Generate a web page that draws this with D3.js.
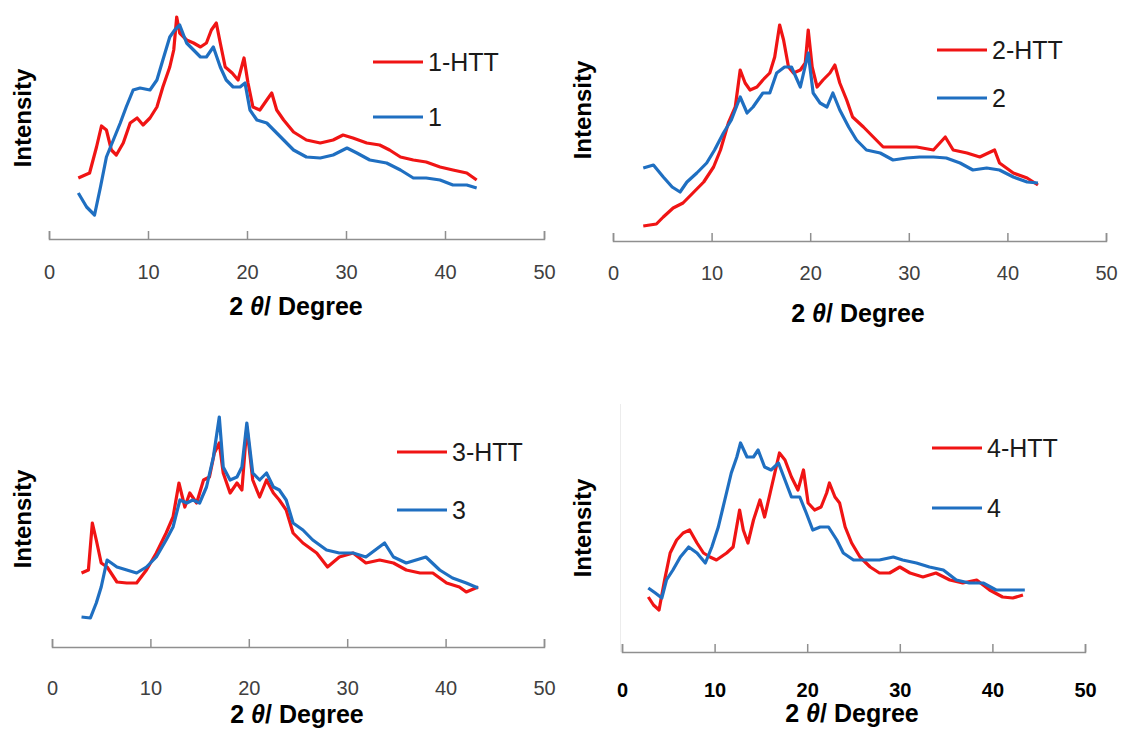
<!DOCTYPE html>
<html>
<head>
<meta charset="utf-8">
<script src="https://cdn.jsdelivr.net/npm/d3@7"></script>
<style>
  html, body { margin: 0; padding: 0; background: #fff; }
  svg { display: block; font-family: "Liberation Sans", Arial, sans-serif; }
</style>
</head>
<body>
<div id="chart"></div>
<script>
// XRD patterns, 2θ in degrees, intensity in arbitrary units (height above baseline)
var xTicks = [0, 10, 20, 30, 40, 50];

// sample 1
var s1HttX = [2.96,4.1,4.8,5.3,5.8,6.3,6.8,7.5,8.2,8.9,9.5,10.2,10.9,11.5,12.2,12.6,12.9,13.2,13.9,14.6,15.3,15.9,16.4,16.9,17.3,17.8,18.5,19.1,19.7,20.1,20.6,21.3,22.0,22.5,23.0,23.7,24.7,26.0,27.4,28.7,29.7,30.7,32.1,33.4,34.4,35.5,36.8,38.1,39.5,40.8,42.2,43.2];
var s1HttY = [61,66,92,113,109,89,84,96,116,121,114,121,132,152,172,189,222,206,199,196,192,196,209,216,196,172,166,159,181,156,132,129,139,146,129,119,107,99,96,99,104,101,96,94,89,82,79,77,72,69,66,59];
var s1X = [2.96,3.8,4.6,5.2,5.8,6.5,7.2,7.8,8.5,9.2,10.2,10.9,11.5,12.2,12.7,13.2,13.9,14.6,15.3,15.9,16.6,17.3,17.9,18.6,19.3,19.8,20.3,21.0,22.0,22.7,23.7,24.7,26.0,27.4,28.7,30.1,31.1,32.4,34.1,35.5,36.8,38.1,39.5,40.8,42.2,43.2];
var s1Y = [46,32,24,52,82,99,116,132,149,151,149,159,179,202,209,214,196,189,182,182,192,172,159,152,152,156,129,119,116,109,99,89,82,81,84,91,86,79,76,69,61,61,59,54,54,51];

// sample 2
var s2HttX = [3.07,4.4,5.1,6.1,7.1,8.1,9.2,10.2,10.9,11.7,12.4,12.9,13.4,13.9,14.6,15.2,15.9,16.4,16.9,17.3,17.8,18.3,19.0,19.5,19.8,20.2,20.7,21.3,22.0,22.5,23.0,23.7,24.3,25.4,26.4,27.4,29.1,30.8,32.5,33.7,34.5,35.9,37.2,38.7,39.2,40.6,42.0,43.1];
var s2HttY = [15,17,24,33,38,48,59,74,91,118,134,171,158,151,154,161,168,184,216,201,174,168,171,178,211,174,154,161,168,176,158,141,124,114,104,94,94,94,91,104,91,88,84,91,78,68,63,56];
var s2X = [3.07,4.1,5.1,6.0,6.8,7.5,8.5,9.5,10.3,11.2,12.0,12.9,13.6,14.2,15.2,15.9,16.6,17.4,18.1,19.0,19.8,20.3,21.0,21.7,22.3,23.0,23.9,24.7,25.7,27.1,28.4,29.8,31.1,32.5,33.8,35.2,36.5,37.9,39.2,40.6,42.0,43.1];
var s2Y = [73,76,64,54,49,59,68,78,91,108,121,144,128,134,148,148,168,174,174,154,188,148,138,134,148,131,114,101,91,88,81,83,84,84,83,78,71,73,71,64,59,58];

// sample 3
var s3HttX = [3.0,3.7,4.1,4.5,5.0,5.6,6.6,7.6,8.6,9.6,10.6,11.6,12.3,12.9,13.5,14.0,14.7,15.4,16.0,16.5,17.0,17.4,18.1,18.8,19.3,19.8,20.4,21.1,21.8,22.5,23.1,23.8,24.5,25.5,26.9,28.0,29.2,30.6,31.9,33.3,34.7,36.0,37.4,38.7,40.1,41.4,42.1,43.3];
var s3HttY = [74,77,124,107,84,80,65,64,64,77,94,114,130,164,140,154,144,167,170,194,204,174,154,164,157,220,167,150,167,154,147,137,114,104,94,80,90,94,84,87,84,77,74,74,64,60,55,60];
var s3X = [3.0,3.9,4.5,5.0,5.6,6.6,7.6,8.6,9.6,10.6,11.6,12.3,13.0,13.7,14.3,15.0,15.7,16.4,17.0,17.4,18.1,18.8,19.3,19.8,20.4,21.1,21.8,22.5,23.1,23.8,24.5,25.5,26.5,27.9,29.2,30.6,31.9,33.8,34.7,36.0,38.0,39.4,40.7,42.1,43.3];
var s3Y = [30,29,44,60,87,80,77,74,80,90,107,120,147,144,147,144,160,190,230,180,167,170,180,224,174,167,174,160,157,147,124,117,107,97,94,94,90,104,90,84,90,77,69,64,59];

// sample 4
var s4HttX = [2.84,3.4,4.0,4.6,5.2,5.9,6.6,7.3,8.1,8.8,9.5,10.2,11.3,12.0,12.7,13.1,13.6,14.2,14.9,15.4,16.0,16.5,17.0,17.6,18.3,19.0,19.6,20.1,20.8,21.5,22.1,22.4,23.0,23.5,24.1,24.8,25.7,26.8,27.8,28.9,30.0,31.1,32.5,33.9,35.4,36.8,38.3,39.7,41.1,42.2,43.3];
var s4HttY = [55,47,42,72,99,112,119,122,109,99,95,92,99,105,142,122,109,132,152,135,159,179,199,192,175,162,182,149,142,145,159,169,155,149,125,109,95,85,79,79,85,79,75,79,72,69,72,62,55,54,57];
var s4X = [2.84,3.6,4.3,4.8,5.5,6.3,7.2,8.1,9.0,9.7,10.4,11.1,11.8,12.4,12.8,13.5,14.2,14.7,15.4,16.1,16.9,17.6,18.3,19.2,19.9,20.6,21.4,22.3,23.2,23.9,25.0,26.4,27.8,29.3,30.3,31.8,33.2,34.7,36.1,37.5,39.0,40.4,41.9,43.5];
var s4Y = [64,59,54,72,82,95,105,99,89,105,125,152,179,195,209,195,195,202,185,182,189,172,155,155,139,122,125,125,112,99,92,92,92,95,92,89,85,82,72,69,69,62,62,62];

var RED = '#f01414', BLUE = '#1f6fc1';

// panel layout (pixels)
var panels = [
  { x0: 49,  x1: 544,  axisY: 239, pad: 26, titleX: 296, titleY: 315, yLabX: 31,  yLabY: 118, legX: 373, legY: [62, 117],
    names: ['1-HTT', '1'], series: [[s1HttX, s1HttY], [s1X, s1Y]], tickBold: false },
  { x0: 613, x1: 1106, axisY: 241, pad: 25, titleX: 858, titleY: 322, yLabX: 591, yLabY: 110, legX: 937, legY: [50, 98],
    names: ['2-HTT', '2'], series: [[s2HttX, s2HttY], [s2X, s2Y]], tickBold: false },
  { x0: 52,  x1: 544,  axisY: 647, pad: 34, titleX: 297, titleY: 723, yLabX: 31,  yLabY: 519, legX: 397, legY: [452, 510],
    names: ['3-HTT', '3'], series: [[s3HttX, s3HttY], [s3X, s3Y]], tickBold: false },
  { x0: 622, x1: 1085, axisY: 652, pad: 31, titleX: 852, titleY: 722, yLabX: 591, yLabY: 528, legX: 932, legY: [448, 508],
    names: ['4-HTT', '4'], series: [[s4HttX, s4HttY], [s4X, s4Y]], tickBold: true }
];

var W = 1125, H = 732;
var svg = d3.select('#chart').append('svg').attr('width', W).attr('height', H);

// faint edge of the pasted panel 4 image
svg.append('line').attr('x1', 620.5).attr('x2', 620.5).attr('y1', 404).attr('y2', 652)
  .attr('stroke', '#ececec').attr('stroke-width', 1);

panels.forEach(function (p) {
  var x = d3.scaleLinear().domain([0, 50]).range([p.x0, p.x1]);
  var y = d3.scaleLinear().domain([0, 240]).range([p.axisY, p.axisY - 240]);
  var g = svg.append('g');

  var axis = g.append('g').attr('transform', 'translate(0,' + p.axisY + ')')
    .call(d3.axisBottom(x).tickValues(xTicks).tickSize(-8).tickPadding(p.pad));
  axis.selectAll('path, line').attr('stroke', '#8f8f8f').attr('stroke-width', 1.5);
  axis.selectAll('text')
    .attr('font-size', 20)
    .attr('font-family', '"Liberation Sans", Arial, sans-serif')
    .attr('font-weight', p.tickBold ? 'bold' : 'normal')
    .attr('fill', p.tickBold ? '#000' : '#404040');

  var line = d3.line().x(function (d) { return x(d[0]); }).y(function (d) { return y(d[1]); });
  p.series.forEach(function (s, i) {
    var pts = s[0].map(function (v, k) { return [v, s[1][k]]; });
    g.append('path').datum(pts).attr('d', line)
      .attr('fill', 'none').attr('stroke', i === 0 ? RED : BLUE)
      .attr('stroke-width', 3.2).attr('stroke-linejoin', 'round');
  });

  // legend
  p.names.forEach(function (n, i) {
    g.append('line').attr('x1', p.legX).attr('x2', p.legX + 50)
      .attr('y1', p.legY[i]).attr('y2', p.legY[i])
      .attr('stroke', i === 0 ? RED : BLUE).attr('stroke-width', 3);
    g.append('text').attr('x', p.legX + 55).attr('y', p.legY[i]).attr('dy', '0.36em')
      .attr('font-size', 25).attr('fill', '#1a1a1a').text(n);
  });

  // axis titles
  var t = g.append('text').attr('x', p.titleX).attr('y', p.titleY)
    .attr('text-anchor', 'middle').attr('font-size', 25).attr('font-weight', 'bold').attr('fill', '#000');
  t.append('tspan').text('2 ');
  t.append('tspan').attr('font-style', 'italic').text('θ');
  t.append('tspan').text('/ Degree');

  g.append('text')
    .attr('transform', 'translate(' + p.yLabX + ',' + p.yLabY + ') rotate(-90)')
    .attr('text-anchor', 'middle').attr('font-size', 24).attr('font-weight', 'bold').attr('fill', '#000')
    .text('Intensity');
});
</script>
</body>
</html>
